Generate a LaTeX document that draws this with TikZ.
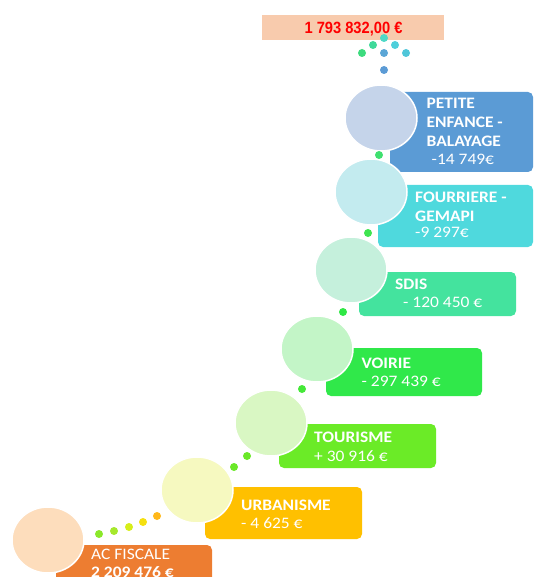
\documentclass[tikz,border=0pt]{standalone}
\usepackage{fontspec}
\setmainfont{Carlito}[FakeStretch=1.09]
\newfontfamily\arialfont{Liberation Sans}[FakeStretch=0.9]
\usetikzlibrary{shapes.geometric}
\definecolor{cTop}{HTML}{F8CBAD}
\definecolor{cRed}{HTML}{FF0000}
\definecolor{bA}{HTML}{5B9BD5}
\definecolor{bB}{HTML}{4FD9DD}
\definecolor{bC}{HTML}{44E39E}
\definecolor{bD}{HTML}{30E84A}
\definecolor{bE}{HTML}{6BEB27}
\definecolor{bF}{HTML}{FFC000}
\definecolor{bG}{HTML}{ED7D31}
\definecolor{eA}{HTML}{C5D4EA}
\definecolor{eB}{HTML}{C3EBEF}
\definecolor{eC}{HTML}{C5F0DC}
\definecolor{eD}{HTML}{C3F5C7}
\definecolor{eE}{HTML}{D9F7C3}
\definecolor{eF}{HTML}{F6F9C0}
\definecolor{eG}{HTML}{FDDDBC}
\tikzset{
  bubble/.style={ellipse, draw=white, line width=1.5pt, minimum width=72pt, minimum height=66pt, inner sep=0pt},
  labelbox/.style={rectangle, rounded corners=5pt, inner sep=0pt},
  lbl/.style={anchor=base west, inner sep=0pt, text=white, font=\fontsize{16}{18}\selectfont},
  lblb/.style={lbl, font=\fontsize{16}{18}\selectfont\bfseries},
  dot/.style={circle, minimum size=8pt, inner sep=0pt},
}
\begin{document}
\begin{tikzpicture}[x=1pt,y=-1pt]
\useasboundingbox (0,0) rectangle (534,577);
\clip (0,0) rectangle (534,577);
% top total
\node[rectangle, fill=cTop, minimum width=182pt, minimum height=25pt, inner sep=0pt] (total) at (353,27.5) {};
\node[inner sep=0pt, anchor=base, text=cRed, font=\arialfont\bfseries\fontsize{16.3}{18}\selectfont] (totaltxt) at (353.5,33.5) {1 793 832,00 €};
% top dots
\node[dot, fill={rgb,255:red,78;green,216;blue,198}] (d1) at (384,38) {};
\node[dot, fill={rgb,255:red,63;green,217;blue,154}] (d2) at (373,45) {};
\node[dot, fill={rgb,255:red,78;green,207;blue,219}] (d3) at (395,45) {};
\node[dot, fill={rgb,255:red,61;green,219;blue,126}] (d4) at (362,53) {};
\node[dot, fill={rgb,255:red,91;green,166;blue,214}] (d5) at (384,53) {};
\node[dot, fill={rgb,255:red,79;green,198;blue,217}] (d6) at (406,53) {};
\node[dot, fill={rgb,255:red,91;green,155;blue,213}] (d7) at (384,70) {};
% boxes
\node[labelbox, fill=bA, minimum width=143pt, minimum height=80pt] (boxA) at (461.5,132) {};
\node[labelbox, fill=bB, minimum width=155pt, minimum height=62pt] (boxB) at (455.5,216) {};
\node[labelbox, fill=bC, minimum width=157pt, minimum height=44pt] (boxC) at (437.5,294) {};
\node[labelbox, fill=bD, minimum width=156pt, minimum height=48pt] (boxD) at (404,372) {};
\node[labelbox, fill=bE, minimum width=157pt, minimum height=44pt] (boxE) at (357.5,446) {};
\node[labelbox, fill=bF, minimum width=157pt, minimum height=52pt] (boxF) at (283.5,513) {};
\node[labelbox, fill=bG, minimum width=156pt, minimum height=60pt] (boxG) at (134,575) {};
% bubbles
\node[bubble, fill=eA] (cA) at (381,118) {};
\node[bubble, fill=eB] (cB) at (371,192) {};
\node[bubble, fill=eC] (cC) at (351,270) {};
\node[bubble, fill=eD] (cD) at (317,349) {};
\node[bubble, fill=eE] (cE) at (271,423) {};
\node[bubble, fill=eF] (cF) at (197,490) {};
\node[bubble, fill=eG] (cG) at (48,540) {};
% step dots
\node[dot, fill={rgb,255:red,63;green,224;blue,111}] (sA) at (379,155) {};
\node[dot, fill={rgb,255:red,63;green,228;blue,80}] (sB) at (368,233) {};
\node[dot, fill={rgb,255:red,47;green,232;blue,69}] (sC) at (343,312) {};
\node[dot, fill={rgb,255:red,69;green,232;blue,56}] (sD) at (302,389) {};
\node[dot, fill={rgb,255:red,106;green,232;blue,40}] (sE1) at (247,456) {};
\node[dot, fill={rgb,255:red,106;green,232;blue,40}] (sE2) at (234,467) {};
\node[dot, fill={rgb,255:red,139;green,232;blue,42}] (sF1) at (99,534) {};
\node[dot, fill={rgb,255:red,166;green,232;blue,44}] (sF2) at (114,531) {};
\node[dot, fill={rgb,255:red,214;green,238;blue,26}] (sF3) at (129,527) {};
\node[dot, fill={rgb,255:red,245;green,224;blue,16}] (sF4) at (143,522) {};
\node[dot, fill={rgb,255:red,255;green,184;blue,26}] (sF5) at (157,516) {};
% labels
\node[lblb] (tA1) at (426.5,109) {PETITE};
\node[lblb] (tA2) at (426.5,127.5) {ENFANCE -};
\node[lblb] (tA3) at (426.5,146.5) {BALAYAGE};
\node[lbl] (tA4) at (431.5,164.5) {-14 749€};
\node[lblb] (tB1) at (415,202) {FOURRIERE -};
\node[lblb] (tB2) at (415,221.5) {GEMAPI};
\node[lbl] (tB3) at (415,237.5) {-9 297€};
\node[lblb] (tC1) at (395,289) {SDIS};
\node[lbl] (tC2) at (403,307) {- 120 450 €};
\node[lblb] (tD1) at (361.5,368) {VOIRIE};
\node[lbl] (tD2) at (361.5,386) {- 297 439 €};
\node[lblb] (tE1) at (314,442) {TOURISME};
\node[lbl] (tE2) at (314,461) {+ 30 916 €};
\node[lblb] (tF1) at (241,510) {URBANISME};
\node[lbl] (tF2) at (241,528) {- 4 625 €};
\node[lbl] (tG1) at (91,559) {AC FISCALE};
\node[lblb] (tG2) at (91,577.5) {2 209 476 €};
\end{tikzpicture}
\end{document}
